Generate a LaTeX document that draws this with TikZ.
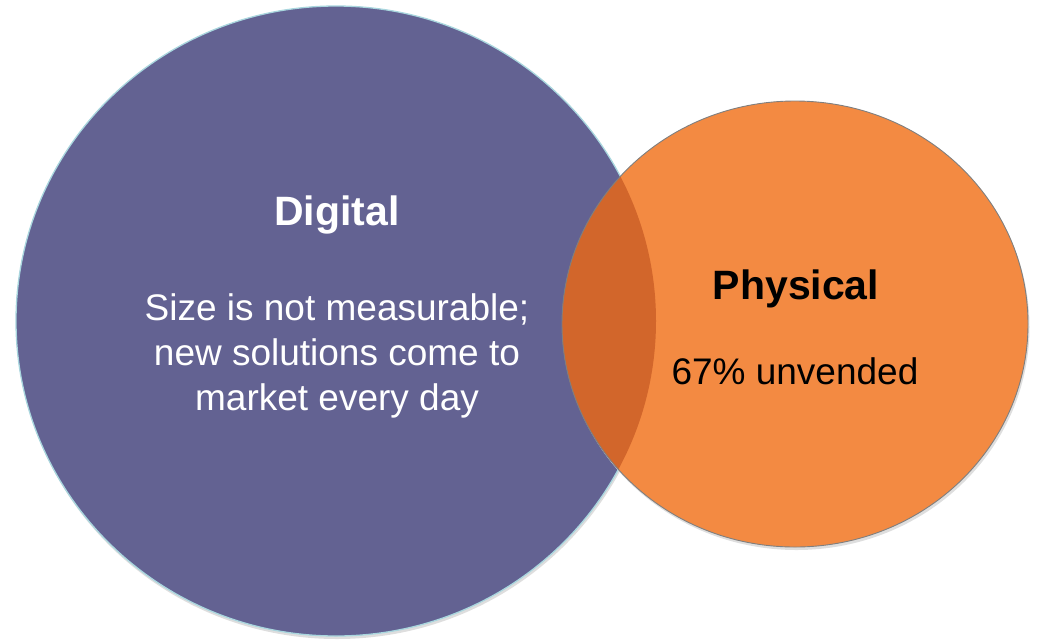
\documentclass[tikz,border=0pt]{standalone}
\usepackage{fontspec}
\setmainfont{Liberation Sans}
\definecolor{digitalfill}{HTML}{636292}
\definecolor{digitaledge}{HTML}{A9D6DE}
\definecolor{physicalfill}{HTML}{F38A42}
\definecolor{physicaledge}{HTML}{7F7F7F}
\definecolor{overlapfill}{HTML}{D2662B}
\tikzset{every node/.style={align=center, inner sep=0pt},
         title/.style={ % circle headings
           font=\bfseries\fontsize{41}{45}\selectfont},
         body/.style={ % circle texts
           font=\fontsize{37}{45}\selectfont},
         softshadow/.style={fill=black!13},
         digitalr/.style={x radius=320pt, y radius=315pt},
         physicalr/.style={x radius=233pt, y radius=223pt}}

\begin{document}
\begin{tikzpicture}[x=1pt, y=-1pt]
  \useasboundingbox (0,0) rectangle (1037,641);

  % Digital
  \fill[softshadow] (337,324) ellipse [digitalr];
  \filldraw[fill=digitalfill, draw=digitaledge, line width=1.3pt] (336,321) ellipse [digitalr];

  % Physical
  \fill[softshadow] (796.5,327) ellipse [physicalr];
  \fill[physicalfill] (795,324) ellipse [physicalr];
  \begin{scope}
    \clip (336,321) ellipse [digitalr];
    \fill[overlapfill] (795,324) ellipse [physicalr];
  \end{scope}
  \draw[physicaledge, line width=0.9pt] (795,324) ellipse [physicalr];

  \node [title, text=white, anchor=base] (digital) at (337,225) {Digital};
  \node [body, text=white] (digitaltext) at (337,356) {Size is not measurable;\\
    new solutions come to\\
    market every day};

  \node [title, text=black, anchor=base] (physical) at (796,299) {Physical};
  \node [body, text=black, anchor=base] (physicaltext) at (795,384) {67\% unvended};
\end{tikzpicture}
\end{document}
